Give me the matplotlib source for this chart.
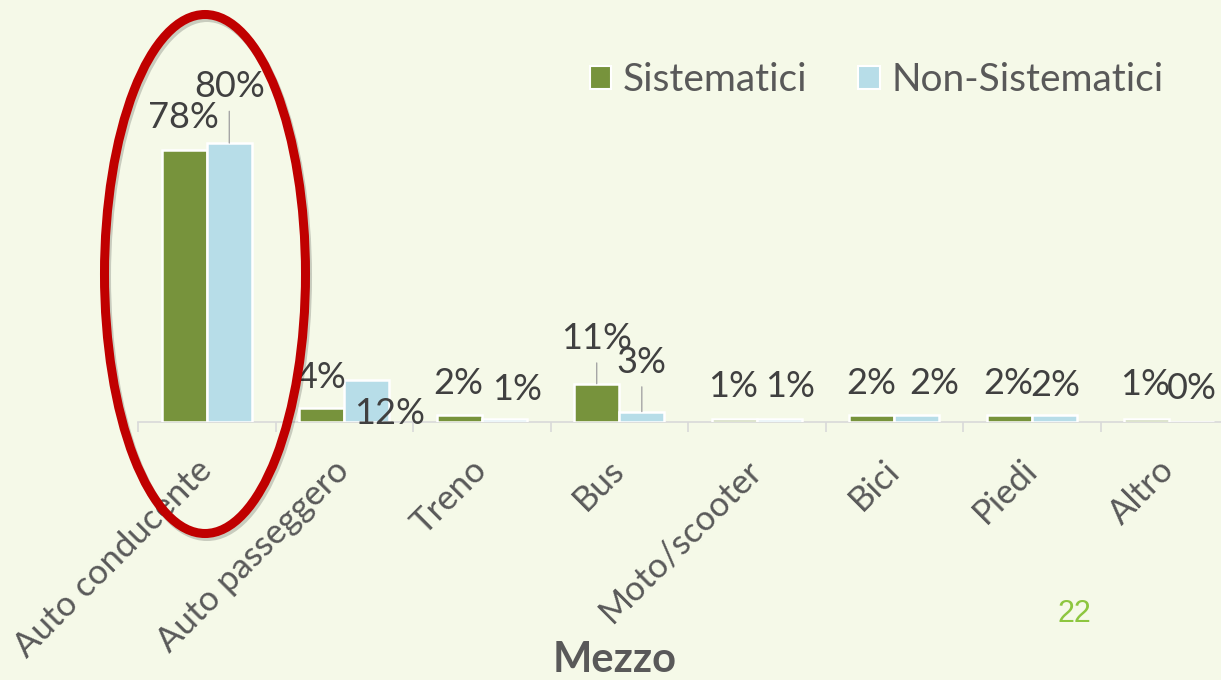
"""Modal split chart: Sistematici vs Non-Sistematici by mezzo (slide 22)."""

import matplotlib
matplotlib.use("Agg")
import matplotlib.pyplot as plt
import numpy as np
from matplotlib.patches import Ellipse, Patch

plt.rcParams["font.family"] = ["Lato", "DejaVu Sans"]

MODES = ["Auto conducente", "Auto passeggero", "Treno", "Bus",
         "Moto/scooter", "Bici", "Piedi", "Altro"]
SISTEMATICI = [78, 4, 2, 11, 1, 2, 2, 1]
NON_SISTEMATICI = [80, 12, 1, 3, 1, 2, 2, 0]
SERIES = ["Sistematici", "Non-Sistematici"]

GREEN, BLUE = "#77933c", "#b7dde8"
BG = "#f5f9e8"
TEXT, LABEL = "#595959", "#404040"

# the data labels were dragged around by hand in the original: (dx, dy) in pixels
# from the top of each bar to the label's baseline, plus which ones got a leader line
NUDGE_SIS = [(-1, 22), (0, 20), (-1, 21), (0, 35), (-1, 22), (0, 21), (-1, 21), (-2, 24)]
NUDGE_NON = [(0, 46), (23, -44), (13, 19), (0, 39), (11, 22), (17, 21), (1, 19), (0, 23)]
LEADER_SIS = [False, False, False, True, False, False, False, False]
LEADER_NON = [True, False, False, True, False, False, False, False]

W, H, DPI = 1221, 680, 100


def label_bars(ax, xs, vals, nudges, leaders):
    for x, v, (dx, dy), lead in zip(xs, vals, nudges, leaders):
        kw = {}
        if lead:
            kw["arrowprops"] = dict(arrowstyle="-", color="#a6a6a6", lw=1.0,
                                    shrinkA=4, shrinkB=0)
        ax.annotate(f"{v}%", xy=(x, v), xytext=(dx, dy), textcoords="offset pixels",
                    ha="center", va="baseline", fontsize=26, color=LABEL, **kw)


def main():
    fig = plt.figure(figsize=(W / DPI, H / DPI), dpi=DPI, facecolor=BG)
    # the category axis runs off the right edge of the slide, as in the original
    ax = fig.add_axes([138 / W, 258 / H, 1100 / W, 422 / H])
    ax.set_facecolor("none")

    x = np.arange(len(MODES)) + 0.5
    off, bw = 0.164, 0.325
    ax.bar(x - off, SISTEMATICI, bw, color=GREEN, edgecolor="white", lw=1.8, zorder=3)
    ax.bar(x + off, NON_SISTEMATICI, bw, color=BLUE, edgecolor="white", lw=1.8, zorder=3)
    label_bars(ax, x - off, SISTEMATICI, NUDGE_SIS, LEADER_SIS)
    label_bars(ax, x + off, NON_SISTEMATICI, NUDGE_NON, LEADER_NON)

    ax.set_xlim(0, len(MODES))
    ax.set_ylim(0, 121)
    for side in ("left", "right", "top"):
        ax.spines[side].set_visible(False)
    ax.spines["bottom"].set_color("#d9d9d9")
    ax.spines["bottom"].set_linewidth(1.2)
    ax.set_yticks([])
    ax.set_xticks(x)
    ax.set_xticklabels(MODES, rotation=45, ha="right", va="center",
                       rotation_mode="anchor", fontsize=25, color=TEXT)
    ax.set_xticks(np.arange(len(MODES) + 1), minor=True)
    ax.tick_params(axis="x", which="major", length=0, pad=31)
    ax.tick_params(axis="x", which="minor", length=7, width=1.2, color="#d9d9d9")

    handles = [Patch(facecolor=GREEN, edgecolor="white", lw=1.5),
               Patch(facecolor=BLUE, edgecolor="white", lw=1.5)]
    fig.legend(handles, SERIES, loc="center left", bbox_to_anchor=(590 / W, 1 - 80 / H),
               ncol=2, frameon=False, fontsize=28, labelcolor=TEXT,
               handlelength=0.55, handleheight=0.55, handletextpad=0.3,
               columnspacing=1.3, borderpad=0, borderaxespad=0)

    # red highlight round the first pair of bars, with a faint drop shadow
    shadow = Ellipse((207 / W, 1 - 277 / H), 201 / W, 519 / H, transform=fig.transFigure,
                     fill=False, ec="#000000", lw=6.5, alpha=0.18)
    ring = Ellipse((205 / W, 1 - 274 / H), 201 / W, 519 / H, transform=fig.transFigure,
                   fill=False, ec="#c00000", lw=6.5)
    fig.add_artist(shadow)
    fig.add_artist(ring)

    fig.text(615 / W, 8 / H, "Mezzo", ha="center", va="baseline",
             fontsize=30, fontweight="bold", color=TEXT)
    fig.text(1074 / W, 58 / H, "22", ha="center", va="baseline",
             fontsize=22, color="#8dc63f", family=["Liberation Sans", "DejaVu Sans"])

    fig.savefig("out.png", dpi=DPI, facecolor=BG)
    plt.close(fig)


if __name__ == "__main__":
    main()
